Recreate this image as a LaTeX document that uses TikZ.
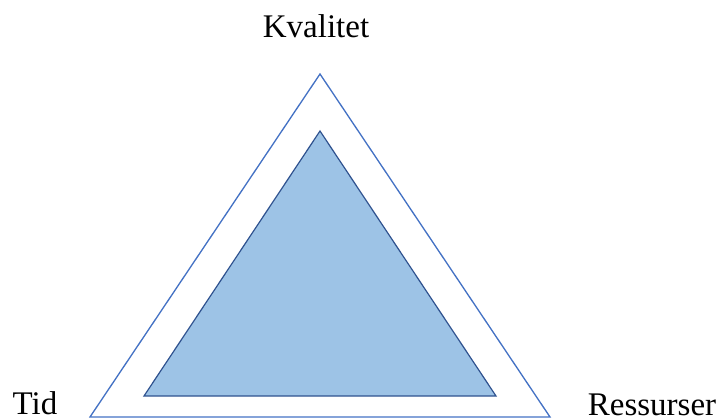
\documentclass[tikz,border=0pt]{standalone}
\usepackage{fontspec}
\setmainfont{Liberation Serif}
\definecolor{outerline}{HTML}{4472C4}
\definecolor{innerfill}{HTML}{9DC3E6}
\definecolor{innerline}{HTML}{2F528F}
\begin{document}
\begin{tikzpicture}[x=0.75pt,y=-0.75pt,
  lbl/.style={font=\fontsize{24.75pt}{28pt}\selectfont, inner sep=0pt, anchor=base},
  outertri/.style={draw=outerline, line width=1pt, line join=miter},
  innertri/.style={draw=innerline, fill=innerfill, line width=0.9pt, line join=miter}]
\useasboundingbox (0,0) rectangle (722,418);
\coordinate (oA) at (320,74);
\coordinate (oL) at (90,417);
\coordinate (oR) at (550,417);
\coordinate (iA) at (320,131);
\coordinate (iL) at (144,396);
\coordinate (iR) at (496,396);
\draw[outertri] (oA) -- (oL) -- (oR) -- cycle;
\draw[innertri] (iA) -- (iL) -- (iR) -- cycle;
\node[lbl] (kval) at (316,37) {Kvalitet};
\node[lbl] (tid) at (35,414) {Tid};
\node[lbl] (ress) at (652,415) {Ressurser};
\end{tikzpicture}
\end{document}
